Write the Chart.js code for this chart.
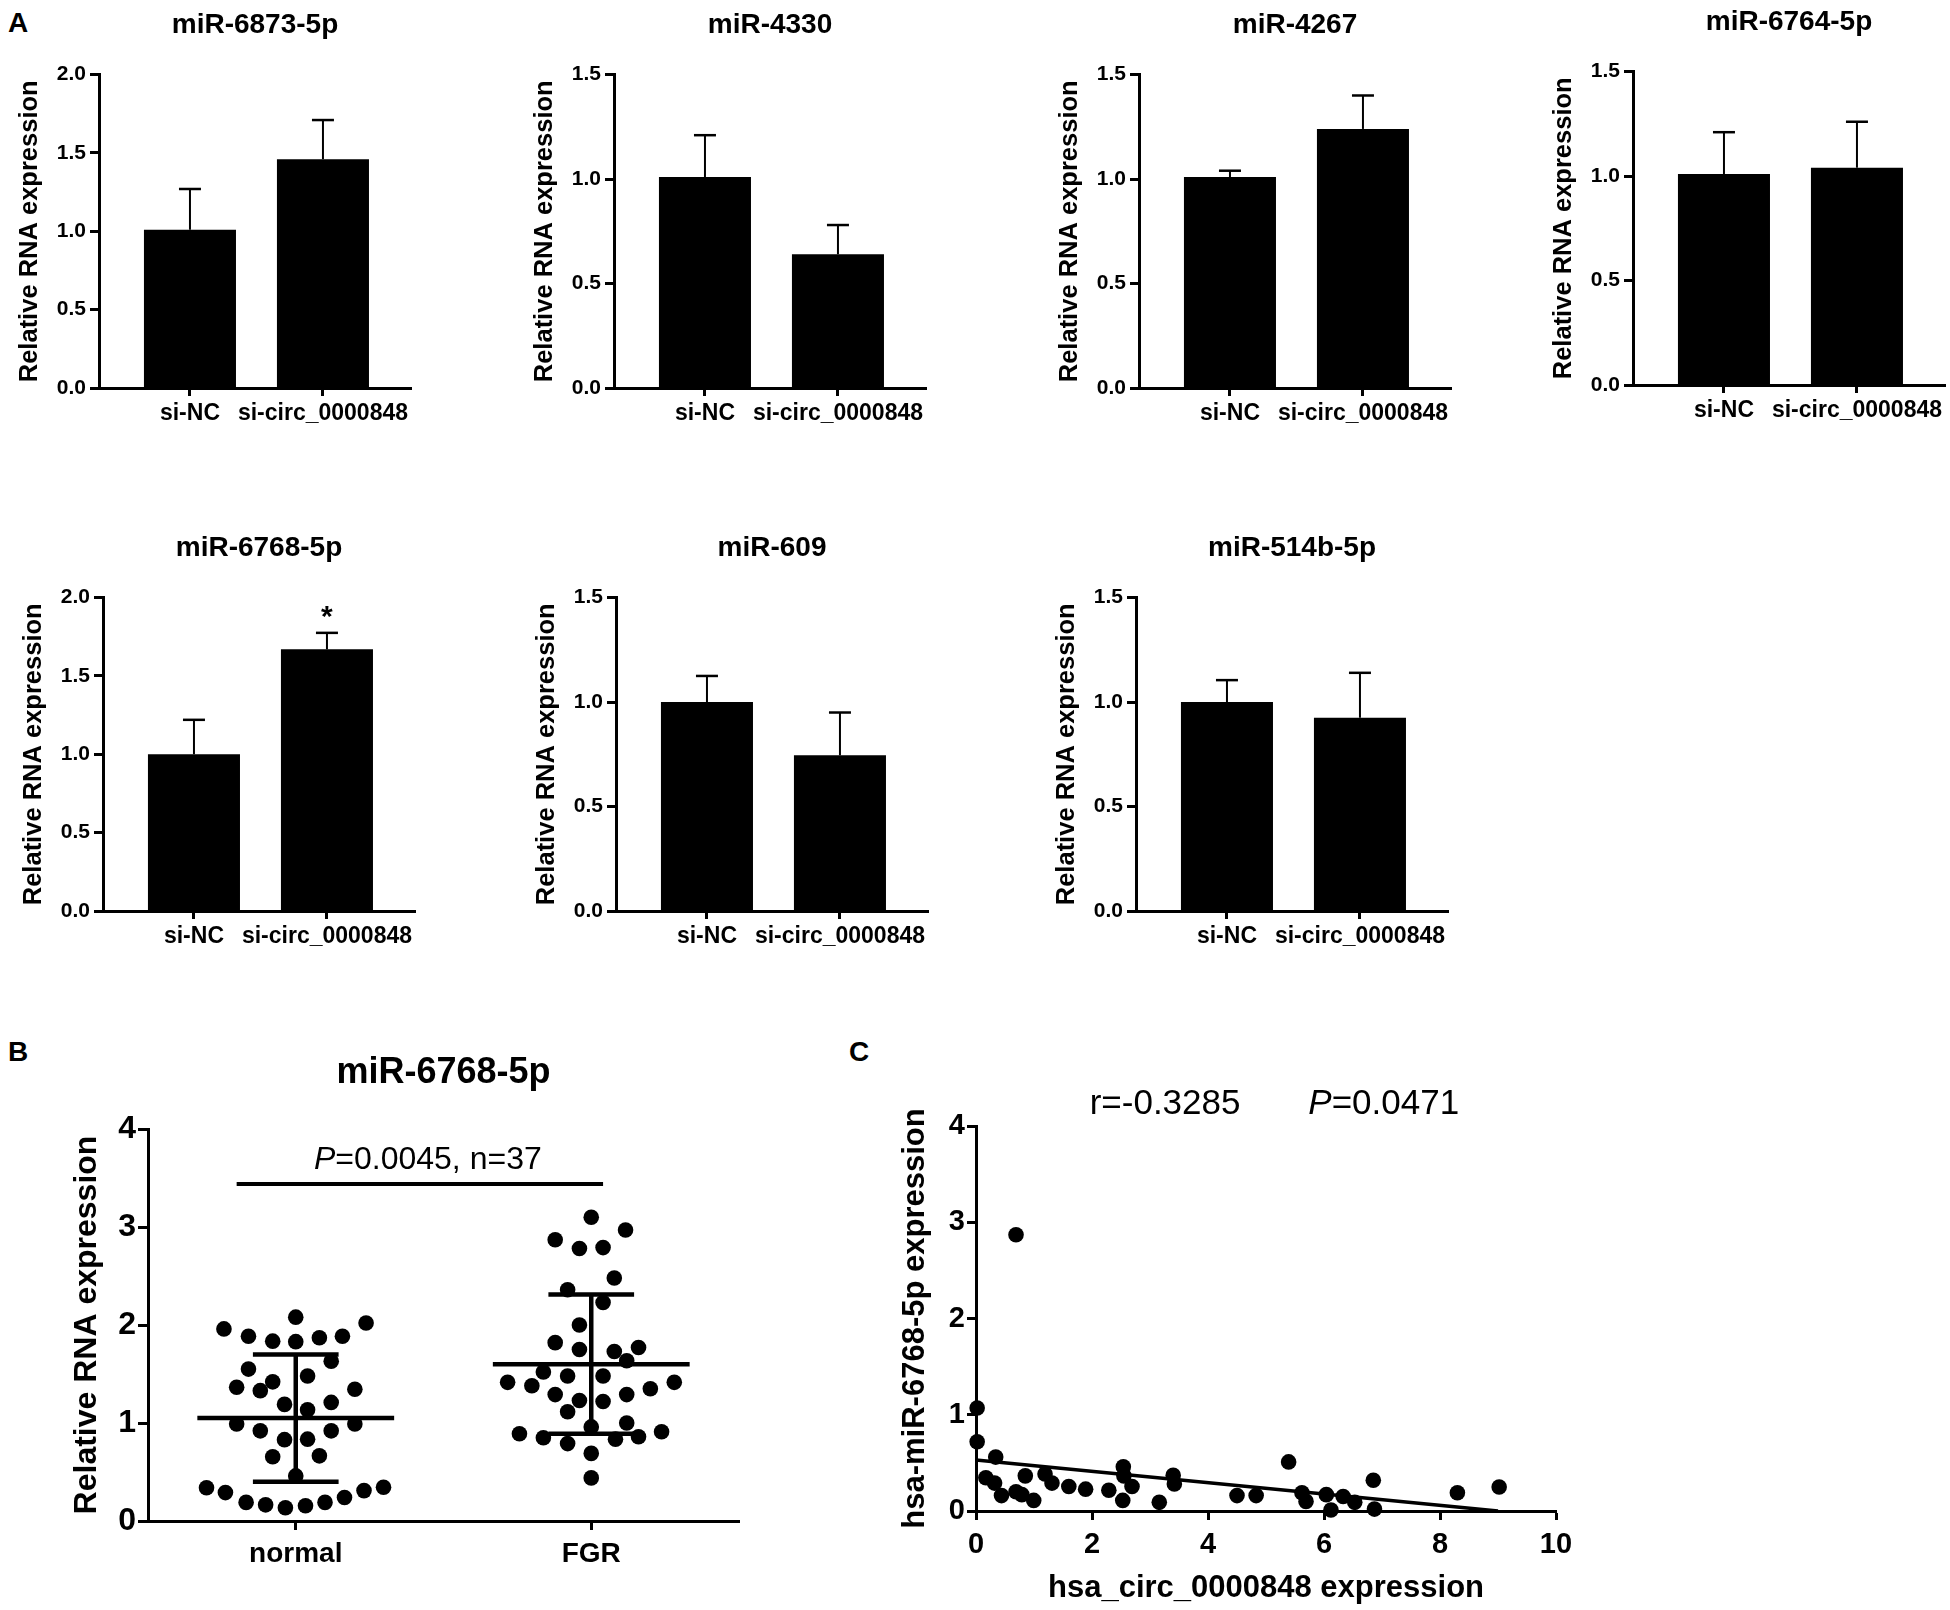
<!DOCTYPE html>
<html><head><meta charset="utf-8">
<script src="https://cdn.jsdelivr.net/npm/chart.js@4.4.1/dist/chart.umd.min.js"></script>
<style>
html,body{margin:0;padding:0;background:#fff;}
body{width:1950px;height:1610px;position:relative;overflow:hidden;font-family:"Liberation Sans",Arial,sans-serif;}
.box{position:absolute;}
.box canvas{display:block;}
.letter{position:absolute;font-weight:bold;font-size:28px;line-height:28px;color:#000;}
</style></head><body>
<div class="letter" style="left:8px;top:9px">A</div>
<div class="letter" style="left:8px;top:1038px">B</div>
<div class="letter" style="left:849px;top:1038px">C</div>
<script>
// ---------------- DATA ----------------
const groups = ['si-NC', 'si-circ_0000848'];
const panelTitles = ['miR-6873-5p', 'miR-4330', 'miR-4267', 'miR-6764-5p', 'miR-6768-5p', 'miR-609', 'miR-514b-5p'];
const siNC      = [1.01, 1.01, 1.01, 1.01, 1.00, 1.00, 1.00];
const siNCErr   = [1.27, 1.21, 1.04, 1.21, 1.22, 1.125, 1.105];   // top of error bar
const siCirc    = [1.46, 0.64, 1.24, 1.04, 1.67, 0.745, 0.925];
const siCircErr = [1.71, 0.78, 1.40, 1.26, 1.775, 0.95, 1.14];
const yMax      = [2, 1.5, 1.5, 1.5, 2, 1.5, 1.5];
const sigMarks  = [['',''], ['',''], ['',''], ['',''], ['','*'], ['',''], ['','']];
const yTitleBar = 'Relative RNA expression';

const groupsB = ['normal', 'FGR'];
const titleB = 'miR-6768-5p';
const normalVals = [1.96,1.885,1.835,1.83,2.08,1.87,1.885,2.02,1.55,1.42,1.48,1.63,1.365,1.33,1.345,1.19,1.135,1.21,0.99,0.92,0.92,0.99,0.83,0.835,0.655,0.665,0.46,0.34,0.29,0.19,0.165,0.135,0.155,0.19,0.24,0.31,0.345];
const normalJitter = [-0.243,-0.16,-0.078,0,0,0.08,0.158,0.238,-0.16,-0.078,0.04,0.12,-0.2,-0.12,0.2,-0.038,0.04,0.12,-0.2,-0.12,0.12,0.2,-0.038,0.04,-0.078,0.08,0,-0.302,-0.238,-0.168,-0.102,-0.035,0.033,0.099,0.165,0.231,0.297];
const fgrVals = [3.10,2.97,2.87,2.78,2.79,2.48,2.36,2.23,2.00,1.82,1.75,1.73,1.77,1.635,1.52,1.48,1.48,1.415,1.38,1.415,1.35,1.29,1.23,1.22,1.29,1.115,1.00,0.96,0.89,0.85,0.91,0.86,0.835,0.79,0.69,0.44];
const fgrJitter = [0,0.116,-0.122,-0.04,0.04,0.078,-0.08,0.04,-0.04,-0.122,-0.04,0.078,0.16,0.12,-0.162,-0.08,0.04,-0.283,-0.201,0.281,0.2,-0.122,-0.04,0.04,0.12,-0.08,0.12,0,-0.243,-0.162,0.238,0.16,0.082,-0.08,0,0];
const groupMeans = [1.05, 1.60];
const groupSDs = [0.65, 0.71];
const sigLineX = [0.80, 2.04];
const sigLineY = 3.44;
const sigTextParts = ['P', '=0.0045, n=37'];

const circX = [0.02,0.02,0.69,0.34,0.17,0.32,0.44,0.69,0.79,0.85,0.995,1.19,1.31,1.60,1.89,2.29,2.54,2.55,2.53,2.69,3.16,3.40,3.42,4.50,4.83,5.39,5.62,5.69,6.04,6.12,6.33,6.53,6.85,6.87,8.30,9.02];
const mirY  = [1.07,0.72,2.87,0.56,0.345,0.29,0.16,0.20,0.17,0.365,0.11,0.385,0.29,0.255,0.227,0.215,0.46,0.365,0.11,0.255,0.09,0.37,0.28,0.16,0.16,0.51,0.19,0.10,0.17,0.01,0.15,0.09,0.32,0.02,0.19,0.25];
const fitLineX = [0, 9.0];
const fitLineY = [0.53, 0.0];
const corrR = 'r=-0.3285';
const corrPParts = ['P', '=0.0471'];
const xTitleC = 'hsa_circ_0000848 expression';
const yTitleC = 'hsa-miR-6768-5p expression';

// ---------------- LAYOUT / STYLE ----------------
const FAM = '"Liberation Sans", Arial, Helvetica, sans-serif';
Chart.defaults.font.family = FAM;
Chart.defaults.color = '#000';
const barLayout = [{ax:99,top:74},{ax:614,top:74},{ax:1139,top:74},{ax:1633,top:71},{ax:103,top:597},{ax:616,top:597},{ax:1136,top:597}];

function makeCanvas(left, top, w, h) {
  const d = document.createElement('div');
  d.className = 'box';
  d.style.left = left + 'px'; d.style.top = top + 'px';
  d.style.width = w + 'px'; d.style.height = h + 'px';
  const c = document.createElement('canvas');
  d.appendChild(c);
  document.body.appendChild(d);
  return c;
}
const axisGrid = (tl) => ({display:true, offset:false, drawOnChartArea:false, drawTicks:true, tickLength:tl, tickWidth:3, tickColor:'#000'});
const axisBorder = {display:true, color:'#000', width:3};

const errorBarPlugin = {
  id: 'errbars',
  afterDatasetsDraw(chart, args, opts) {
    const meta = chart.getDatasetMeta(0);
    const y = chart.scales.y;
    const c = chart.ctx;
    c.save();
    c.strokeStyle = '#000'; c.fillStyle = '#000';
    meta.data.forEach((bar, k) => {
      const yt = y.getPixelForValue(opts.top[k]);
      c.lineWidth = 2;
      c.beginPath(); c.moveTo(bar.x, bar.y); c.lineTo(bar.x, yt); c.stroke();
      c.lineWidth = 2.5;
      c.beginPath(); c.moveTo(bar.x - 11, yt); c.lineTo(bar.x + 11, yt); c.stroke();
      if (opts.marks[k]) {
        c.font = 'bold 30px ' + FAM;
        c.textAlign = 'center'; c.textBaseline = 'alphabetic';
        c.fillText(opts.marks[k], bar.x, yt - 7);
      }
    });
    c.restore();
  }
};

function barChart(i) {
  const L = barLayout[i];
  const cv = makeCanvas(L.ax - 95, L.top - 74, 412, 438);
  new Chart(cv, {
    type: 'bar',
    data: { datasets: [{
      data: [siNC[i], siCirc[i]].map((v, k) => ({x: k + 1, y: v})),
      backgroundColor: '#000', borderWidth: 0, categoryPercentage: 1, barPercentage: 0.692
    }]},
    options: {
      responsive: true, maintainAspectRatio: false, animation: false,
      layout: {padding: {left: 0, right: 5, top: 8, bottom: 0}},
      plugins: {
        legend: {display: false}, tooltip: {enabled: false},
        title: {display: true, text: panelTitles[i], color: '#000', font: {size: 28, weight: 'bold'}, padding: {top: 0, bottom: 33}, fullSize: false},
        errbars: {top: [siNCErr[i], siCircErr[i]], marks: sigMarks[i]}
      },
      scales: {
        x: {
          type: 'linear', min: 0.316, max: 2.662, offset: false,
          afterBuildTicks: s => { s.ticks = groups.map((g, k) => ({value: k + 1})); },
          afterFit: s => { s.height = 50; },
          ticks: {callback: v => groups[v - 1], font: {size: 23, weight: 'bold'}, color: '#000', padding: 4, maxRotation: 0, minRotation: 0, autoSkip: false},
          grid: axisGrid(8), border: axisBorder
        },
        y: {
          min: 0, max: yMax[i],
          afterFit: s => { s.width = 95; },
          ticks: {stepSize: 0.5, callback: v => v.toFixed(1), font: {size: 21, weight: 'bold'}, color: '#000', padding: 4},
          title: {display: true, text: yTitleBar, color: '#000', font: {size: 25.5, weight: 'bold'}, padding: {top: 11, bottom: 0}},
          grid: axisGrid(9), border: axisBorder
        }
      }
    },
    plugins: [errorBarPlugin]
  });
}
for (let i = 0; i < panelTitles.length; i++) barChart(i);

function drawMixed(c, parts, cx, cy, size) {
  let total = 0;
  const ws = parts.map((t, k) => {
    c.font = (k === 0 ? 'italic ' : '') + size + 'px ' + FAM;
    const w = c.measureText(t).width; total += w; return w;
  });
  let x = cx - total / 2;
  c.textAlign = 'left'; c.textBaseline = 'middle';
  parts.forEach((t, k) => {
    c.font = (k === 0 ? 'italic ' : '') + size + 'px ' + FAM;
    c.fillText(t, x, cy); x += ws[k];
  });
}

// ---------------- Panel B ----------------
const meanSdPlugin = {
  id: 'meansd',
  afterDatasetsDraw(chart) {
    const xs = chart.scales.x, ys = chart.scales.y, c = chart.ctx;
    c.save(); c.strokeStyle = '#000'; c.fillStyle = '#000'; c.lineCap = 'butt';
    groupMeans.forEach((m, k) => {
      const cx = k + 1, sd = groupSDs[k];
      c.lineWidth = 4.5;
      c.beginPath(); c.moveTo(xs.getPixelForValue(cx - 0.333), ys.getPixelForValue(m)); c.lineTo(xs.getPixelForValue(cx + 0.333), ys.getPixelForValue(m)); c.stroke();
      c.beginPath(); c.moveTo(xs.getPixelForValue(cx), ys.getPixelForValue(m - sd)); c.lineTo(xs.getPixelForValue(cx), ys.getPixelForValue(m + sd)); c.stroke();
      [m - sd, m + sd].forEach(v => {
        c.beginPath(); c.moveTo(xs.getPixelForValue(cx - 0.145), ys.getPixelForValue(v)); c.lineTo(xs.getPixelForValue(cx + 0.145), ys.getPixelForValue(v)); c.stroke();
      });
    });
    c.lineWidth = 4;
    c.beginPath(); c.moveTo(xs.getPixelForValue(sigLineX[0]), ys.getPixelForValue(sigLineY)); c.lineTo(xs.getPixelForValue(sigLineX[1]), ys.getPixelForValue(sigLineY)); c.stroke();
    drawMixed(c, sigTextParts, xs.getPixelForValue(1.447), ys.getPixelForValue(3.68), 32);
    c.restore();
  }
};
new Chart(makeCanvas(48, 1030, 701, 551), {
  type: 'scatter',
  data: {datasets: [
    {data: normalVals.map((v, k) => ({x: 1 + normalJitter[k], y: v})), pointRadius: 7.8, pointBackgroundColor: '#000', pointBorderWidth: 0, clip: false},
    {data: fgrVals.map((v, k) => ({x: 2 + fgrJitter[k], y: v})), pointRadius: 7.8, pointBackgroundColor: '#000', pointBorderWidth: 0, clip: false}
  ]},
  options: {
    responsive: true, maintainAspectRatio: false, animation: false,
    layout: {padding: {left: 0, right: 10, top: 21.4, bottom: 0}},
    plugins: {
      legend: {display: false}, tooltip: {enabled: false},
      title: {display: true, text: titleB, color: '#000', font: {size: 36, weight: 'bold'}, padding: {top: 0, bottom: 34.4}, fullSize: false}
    },
    scales: {
      x: {
        type: 'linear', min: 0.5, max: 2.5,
        afterBuildTicks: s => { s.ticks = groupsB.map((g, k) => ({value: k + 1})); },
        afterFit: s => { s.height = 60; },
        ticks: {callback: v => groupsB[v - 1], font: {size: 28, weight: 'bold'}, color: '#000', padding: 7, maxRotation: 0, autoSkip: false},
        grid: axisGrid(9), border: axisBorder
      },
      y: {
        min: 0, max: 4,
        afterFit: s => { s.width = 100; },
        ticks: {stepSize: 1, font: {size: 32, weight: 'bold'}, color: '#000', padding: 2},
        title: {display: true, text: yTitleBar, color: '#000', font: {size: 32, weight: 'bold'}, padding: {top: 19.5, bottom: 0}},
        grid: axisGrid(10), border: axisBorder
      }
    }
  },
  plugins: [meanSdPlugin]
});

// ---------------- Panel C ----------------
const corrTextPlugin = {
  id: 'corrtext',
  afterDraw(chart) {
    const xs = chart.scales.x, c = chart.ctx;
    c.save(); c.fillStyle = '#000';
    const cy = chart.chartArea.top - 22;
    c.font = '35px ' + FAM; c.textAlign = 'center'; c.textBaseline = 'middle';
    c.fillText(corrR, xs.getPixelForValue(3.26), cy);
    drawMixed(c, corrPParts, xs.getPixelForValue(7.03), cy, 35);
    c.restore();
  }
};
new Chart(makeCanvas(876, 1040, 705, 570), {
  type: 'scatter',
  data: {datasets: [
    {data: circX.map((v, k) => ({x: v, y: mirY[k]})), pointRadius: 7.8, pointBackgroundColor: '#000', pointBorderWidth: 0, clip: false},
    {type: 'line', data: fitLineX.map((v, k) => ({x: v, y: fitLineY[k]})), borderColor: '#000', borderWidth: 3.5, pointRadius: 0, fill: false, clip: false}
  ]},
  options: {
    responsive: true, maintainAspectRatio: false, animation: false,
    layout: {padding: {left: 0, right: 25, top: 86, bottom: 0}},
    plugins: {legend: {display: false}, tooltip: {enabled: false}},
    scales: {
      x: {
        type: 'linear', min: 0, max: 10,
        afterFit: s => { s.height = 99; },
        ticks: {stepSize: 2, font: {size: 29, weight: 'bold'}, color: '#000', padding: 8, maxRotation: 0},
        title: {display: true, text: xTitleC, color: '#000', font: {size: 31, weight: 'bold'}, padding: {top: 0, bottom: 3}},
        grid: axisGrid(9), border: axisBorder
      },
      y: {
        min: 0, max: 4,
        afterFit: s => { s.width = 100; },
        ticks: {stepSize: 1, font: {size: 29, weight: 'bold'}, color: '#000', padding: 2},
        title: {display: true, text: yTitleC, color: '#000', font: {size: 31, weight: 'bold'}, padding: {top: 21, bottom: 0}},
        grid: axisGrid(9), border: axisBorder
      }
    }
  },
  plugins: [corrTextPlugin]
});
</script>
</body></html>
